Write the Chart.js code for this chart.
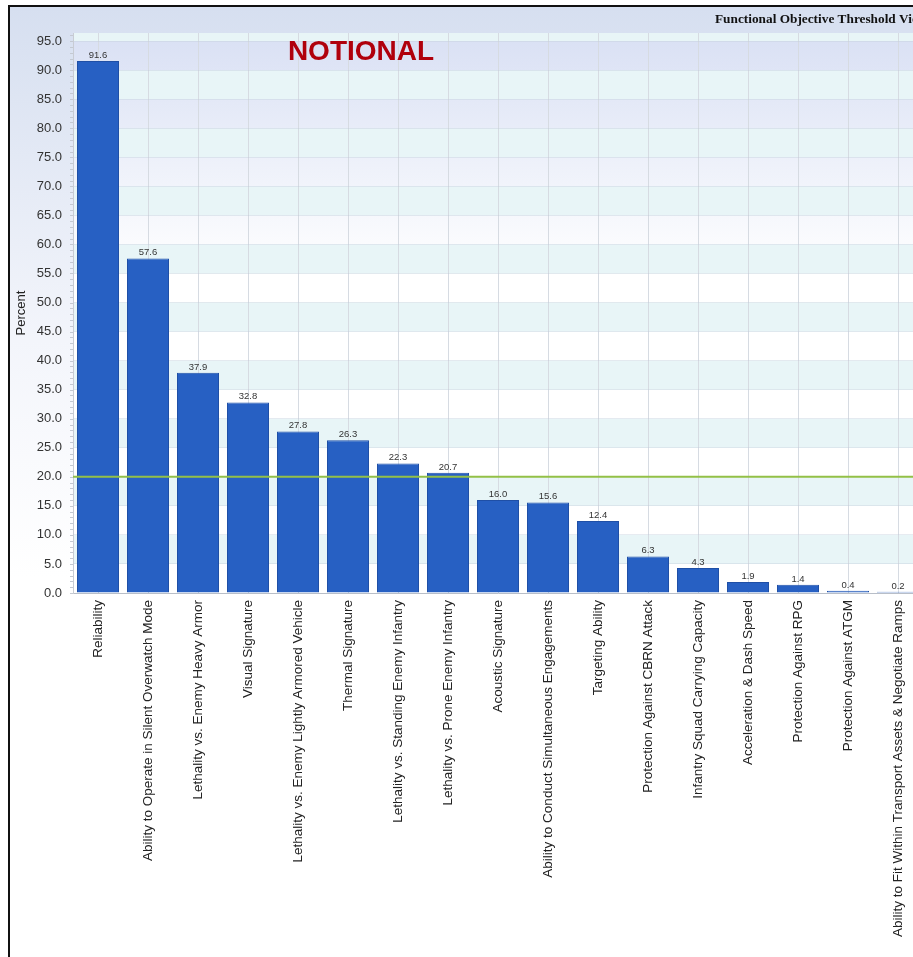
<!DOCTYPE html>
<html>
<head>
<meta charset="utf-8">
<script src="https://cdn.jsdelivr.net/npm/chart.js@4.4.1/dist/chart.umd.min.js"></script>
<style>
  body { margin: 0; overflow: hidden; background: #fff; }
  #frame { position: absolute; left: 8px; top: 5px; width: 1000px; height: 1000px;
           border-left: 2px solid #111; border-top: 2px solid #111; }
  canvas { display: block; }
</style>
</head>
<body>
<div id="frame"><canvas id="violations-chart" width="960" height="950"></canvas></div>
<script>
const labels = [
  'Reliability',
  'Ability to Operate in Silent Overwatch Mode',
  'Lethality vs. Enemy Heavy Armor',
  'Visual Signature',
  'Lethality vs. Enemy Lightly Armored Vehicle',
  'Thermal Signature',
  'Lethality vs. Standing Enemy Infantry',
  'Lethality vs. Prone Enemy Infantry',
  'Acoustic Signature',
  'Ability to Conduct Simultaneous Engagements',
  'Targeting Ability',
  'Protection Against CBRN Attack',
  'Infantry Squad Carrying Capacity',
  'Acceleration & Dash Speed',
  'Protection Against RPG',
  'Protection Against ATGM',
  'Ability to Fit Within Transport Assets & Negotiate Ramps'
];
const values = [91.6, 57.6, 37.9, 32.8, 27.8, 26.3, 22.3, 20.7, 16.0, 15.6, 12.4, 6.3, 4.3, 1.9, 1.4, 0.4, 0.2];
const yTicks = [0, 5, 10, 15, 20, 25, 30, 35, 40, 45, 50, 55, 60, 65, 70, 75, 80, 85, 90, 95];
const threshold = 20;

const ctx = document.getElementById('violations-chart');

// page background, banded plot area
const backdrop = {
  id: 'backdrop',
  beforeDraw(chart) {
    const c = chart.ctx;
    const a = chart.chartArea;
    const y = chart.scales.y;
    c.save();
    let g = c.createLinearGradient(0, 0, 0, chart.height);
    g.addColorStop(0, '#d6dff0');
    g.addColorStop(0.35, '#f3f5fb');
    g.addColorStop(0.6, '#ffffff');
    c.fillStyle = g;
    c.fillRect(0, 0, chart.width, chart.height);

    g = c.createLinearGradient(0, a.top, 0, y.getPixelForValue(55));
    g.addColorStop(0, '#d9e0f4');
    g.addColorStop(1, '#ffffff');
    c.fillStyle = g;
    c.fillRect(a.left, a.top, a.right - a.left, a.bottom - a.top);

    c.fillStyle = '#e8f5f7';
    for (let k = 1; k * 5 < y.max; k += 2) {
      const top = Math.max(y.getPixelForValue(Math.min((k + 1) * 5, y.max)), a.top);
      const bot = y.getPixelForValue(k * 5);
      c.fillRect(a.left, top, a.right - a.left, bot - top);
    }
    c.restore();
  },
  afterDatasetsDraw(chart) {
    const c = chart.ctx;
    const a = chart.chartArea;
    const y = chart.scales.y;
    c.save();
    // threshold line
    const ty = y.getPixelForValue(threshold);
    c.strokeStyle = '#93c047';
    c.lineWidth = 2;
    c.beginPath();
    c.moveTo(a.left, ty);
    c.lineTo(a.right, ty);
    c.stroke();

    // minor ticks on the value axis
    c.strokeStyle = '#c4c9d2';
    c.lineWidth = 1;
    for (let v = 0; v <= y.max; v++) {
      const py = Math.round(y.getPixelForValue(v)) + 0.5;
      c.beginPath();
      c.moveTo(a.left - 3, py);
      c.lineTo(a.left, py);
      c.stroke();
    }

    // value labels above bars
    c.font = '9.5px "Liberation Sans", Arial, sans-serif';
    c.fillStyle = '#333';
    c.textAlign = 'center';
    c.textBaseline = 'bottom';
    chart.getDatasetMeta(0).data.forEach((bar, i) => {
      c.fillText(values[i].toFixed(1), bar.x, bar.y - 1);
    });
    c.restore();
  },
  afterDraw(chart) {
    const c = chart.ctx;
    c.save();
    c.fillStyle = '#111';
    c.font = 'bold 13.3px "Liberation Serif", "Times New Roman", serif';
    c.textAlign = 'left';
    c.textBaseline = 'middle';
    c.fillText('Functional Objective Threshold Violations', 705, 13);

    c.fillStyle = '#b0000c';
    c.font = 'bold 28px "Liberation Sans", Arial, sans-serif';
    c.textAlign = 'center';
    c.fillText('NOTIONAL', 351, 45);
    c.restore();
  }
};

const data = {
  labels: labels,
  datasets: [
    {
      label: 'Percent',
      data: values,
      backgroundColor: '#2760c3',
      borderColor: '#1f4fa6',
      borderWidth: 1,
      barPercentage: 0.84,
      categoryPercentage: 1.0
    }
  ]
};

const config = {
  type: 'bar',
  data: data,
  plugins: [backdrop],
  options: {
    responsive: false,
    animation: false,
    layout: { padding: { top: 26, right: 47, left: 0, bottom: 0 } },
    plugins: {
      legend: { display: false },
      tooltip: { enabled: false }
    },
    scales: {
      x: {
        afterFit: (scale) => { scale.height = 364; },
        grid: { offset: false, color: '#d6dbe2', drawTicks: false },
        border: { color: '#b8bec8' },
        ticks: {
          autoSkip: false,
          minRotation: 90,
          maxRotation: 90,
          padding: 7,
          color: '#222',
          font: { family: '"Liberation Sans", Arial, sans-serif', size: 13.5 }
        }
      },
      y: {
        min: 0,
        max: 96.4,
        afterFit: (scale) => { scale.width = 63; },
        afterBuildTicks: (scale) => { scale.ticks = yTicks.map(v => ({ value: v })); },
        grid: { color: 'rgba(190,200,215,0.35)', drawTicks: false },
        border: { color: '#c8ccd4' },
        title: {
          display: true,
          text: 'Percent',
          color: '#222',
          font: { family: '"Liberation Sans", Arial, sans-serif', size: 13 }
        },
        ticks: {
          padding: 11,
          color: '#333',
          font: { family: '"Liberation Sans", Arial, sans-serif', size: 13 },
          callback: (v) => Number(v).toFixed(1)
        }
      }
    }
  }
};

new Chart(ctx, config);
</script>
</body>
</html>
